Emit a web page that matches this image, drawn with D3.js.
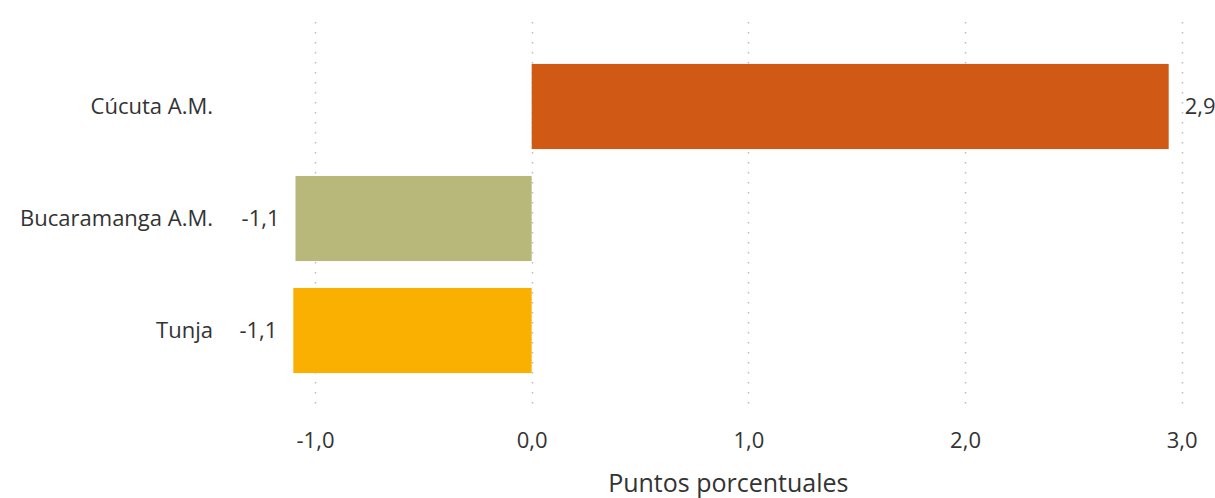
<!DOCTYPE html>
<html>
<head>
<meta charset="utf-8">
<script src="https://cdn.jsdelivr.net/npm/d3@7"></script>
<style>
  body { margin: 0; background: #fff; }
  text { font-family: "Open Sans", "Noto Sans", sans-serif; }
</style>
</head>
<body>
<div id="chart"></div>
<script>
const categories = ['Cúcuta A.M.', 'Bucaramanga A.M.', 'Tunja'];
const values = [2.94, -1.09, -1.1];
const colors = ['#D05915', '#B8B87A', '#F9B000'];
const tickValues = [-1, 0, 1, 2, 3];

const width = 1215;
const height = 498;

const svg = d3.select('#chart')
  .append('svg')
  .attr('width', width)
  .attr('height', height);

const x = d3.scaleLinear()
  .domain([-1, 3])
  .range([315, 1181.7]);

const y = d3.scaleBand()
  .domain(categories)
  .range([50.5, 386.5])
  .paddingInner(0.24)
  .paddingOuter(0.12);

const fmt = v => d3.format('.1f')(v).replace('.', ',').replace('−', '-');

// dotted gridlines
svg.append('g')
  .selectAll('line')
  .data(tickValues)
  .join('line')
  .attr('x1', d => Math.round(x(d)) + 0.5)
  .attr('x2', d => Math.round(x(d)) + 0.5)
  .attr('y1', 22)
  .attr('y2', 412)
  .attr('stroke', '#bdbdbd')
  .attr('stroke-width', 1.5)
  .attr('stroke-dasharray', '1.5,8.5');

// bars
svg.append('g')
  .selectAll('rect')
  .data(categories)
  .join('rect')
  .attr('x', (d, i) => x(Math.min(0, values[i])))
  .attr('y', d => y(d))
  .attr('width', (d, i) => Math.abs(x(values[i]) - x(0)))
  .attr('height', y.bandwidth())
  .attr('fill', (d, i) => colors[i]);

// value labels
svg.append('g')
  .selectAll('text')
  .data(categories)
  .join('text')
  .attr('x', (d, i) => values[i] >= 0 ? x(values[i]) + 16 : x(values[i]) - 16)
  .attr('y', d => y(d) + y.bandwidth() / 2)
  .attr('dy', '0.35em')
  .attr('text-anchor', (d, i) => values[i] >= 0 ? 'start' : 'end')
  .attr('font-size', '22px')
  .attr('fill', '#333')
  .text((d, i) => fmt(values[i]));

// category labels
svg.append('g')
  .selectAll('text')
  .data(categories)
  .join('text')
  .attr('x', 213)
  .attr('y', d => y(d) + y.bandwidth() / 2)
  .attr('dy', '0.35em')
  .attr('text-anchor', 'end')
  .attr('font-size', '22px')
  .attr('fill', '#333')
  .text(d => d);

// x axis
const xAxis = svg.append('g')
  .attr('transform', 'translate(0,429)')
  .call(d3.axisBottom(x).tickValues(tickValues).tickFormat(fmt).tickSize(0));
xAxis.select('.domain').remove();
xAxis.selectAll('text')
  .attr('font-size', '22px')
  .attr('fill', '#333')
  .style('font-family', '"Open Sans", "Noto Sans", sans-serif');

// axis title
svg.append('text')
  .attr('x', x(1) - 20)
  .attr('y', 483)
  .attr('dy', '0.35em')
  .attr('text-anchor', 'middle')
  .attr('font-size', '25px')
  .attr('fill', '#333')
  .text('Puntos porcentuales');
</script>
</body>
</html>
